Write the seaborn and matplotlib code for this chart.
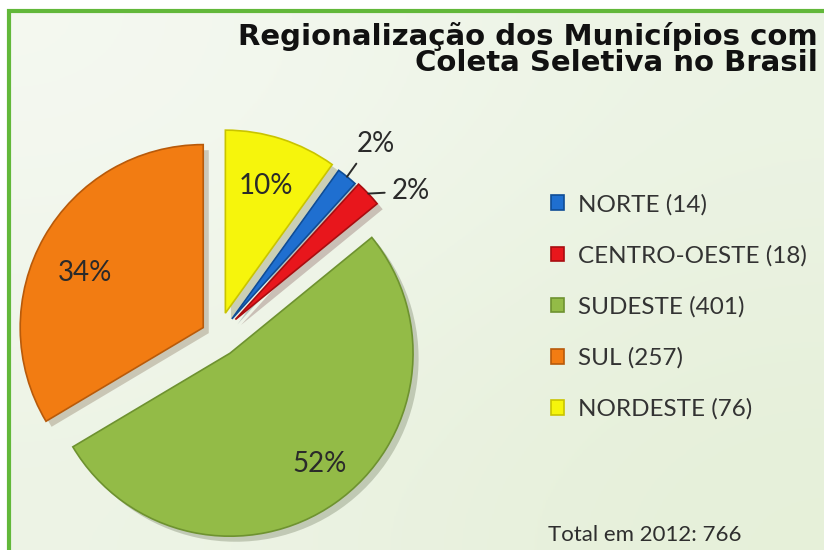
import numpy as np
import matplotlib
matplotlib.use('Agg')
import matplotlib.pyplot as plt
import matplotlib.patheffects as pe
from matplotlib.patches import Rectangle
import seaborn as sns

regions = ['NORTE', 'CENTRO-OESTE', 'SUDESTE', 'SUL', 'NORDESTE']
counts = [14, 18, 401, 257, 76]
colors = ['#1f6fd0', '#e8161c', '#93bb47', '#f27c12', '#f6f50c']
edge_colors = ['#0f4d96', '#a80d10', '#6e9230', '#b85a0a', '#c9c400']
year = 2012

sns.set_theme(style='white')
plt.rcParams['font.family'] = ['Lato', 'DejaVu Sans']

W, H = 824, 550
fig = plt.figure(figsize=(W / 100, H / 100), dpi=100)
fig.patch.set_facecolor('white')
ax = fig.add_axes([0, 0, 1, 1])

# background panel with soft green gradient and green frame (left/top only visible)
grad = np.array([[[0.96, 0.975, 0.945], [0.925, 0.955, 0.895]],
                 [[0.93, 0.955, 0.90], [0.90, 0.94, 0.85]]])
ax.imshow(grad, extent=(9, W + 5, -5, H - 11), interpolation='bicubic', zorder=0, aspect='auto')
ax.add_patch(Rectangle((9, -10), W + 20, H - 11 + 10, fill=False, edgecolor='#62b83a', lw=3, zorder=1))

total = sum(counts)
start = 90 - 360 * counts[-1] / total
center = (218, H - 336)
radius = 183
explode_px = [22, 24, 21, 17, 24]   # pie explode is in data units (pixels here)
pct_dist = [0, 0, 0.78, 0.71, 0.73]
pct_rot = [0, 0, 4, 5, 0]

wedges, texts, autotexts = ax.pie(
    counts, colors=colors, explode=explode_px, startangle=start, counterclock=False,
    radius=radius, center=center, autopct=lambda p: f'{p:.0f}%',
    wedgeprops=dict(linewidth=1.2), textprops=dict(fontsize=20, color='#2a2a2a'))

for w, ec in zip(wedges, edge_colors):
    w.set_edgecolor(ec)
    w.set_zorder(3)
    w.set_path_effects([pe.SimplePatchShadow(offset=(4, -4), alpha=0.22), pe.Normal()])

for i, t in enumerate(autotexts):
    t.set_zorder(5)
    w = wedges[i]
    if pct_dist[i]:
        ang = np.deg2rad((w.theta1 + w.theta2) / 2 + pct_rot[i])
        t.set_position((w.center[0] + w.r * pct_dist[i] * np.cos(ang),
                        w.center[1] + w.r * pct_dist[i] * np.sin(ang)))

# small slices get outside labels with leader lines
small = {0: (1.36, -0.5, (0.15, 0.1)), 1: (1.32, -6.6, (0.0, 0.45))}
for i, (r_lab, dang, relpos) in small.items():
    w = wedges[i]
    mid = np.deg2rad((w.theta1 + w.theta2) / 2)
    cx, cy = w.center
    autotexts[i].set_visible(False)
    pt = (cx + w.r * np.cos(mid), cy + w.r * np.sin(mid))
    lab_ang = mid + np.deg2rad(dang)
    lab = (center[0] + radius * r_lab * np.cos(lab_ang), center[1] + radius * r_lab * np.sin(lab_ang))
    ax.annotate(f'{100 * counts[i] / total:.0f}%', xy=pt, xytext=lab, fontsize=20, color='#2a2a2a',
                ha='center', va='center', zorder=6,
                arrowprops=dict(arrowstyle='-', color='#2a2a2a', lw=1.4, relpos=relpos,
                                shrinkA=3, shrinkB=0))

ax.text(818, H - 45, 'Regionalização dos Municípios com', ha='right', va='baseline',
        fontsize=21, fontweight='bold', color='#111111', family='DejaVu Sans', zorder=6)
ax.text(818, H - 71, 'Coleta Seletiva no Brasil', ha='right', va='baseline',
        fontsize=21, fontweight='bold', color='#111111', family='DejaVu Sans', zorder=6)

labels = [f'{r} ({c})' for r, c in zip(regions, counts)]
leg = ax.legend(wedges, labels, loc='upper left', bbox_to_anchor=(529, H - 172),
                bbox_transform=ax.transData, frameon=False, fontsize=17.5,
                handlelength=0.55, handleheight=0.55, handletextpad=0.55, labelspacing=1.22)
for t in leg.get_texts():
    t.set_color('#333333')
for h in leg.legend_handles:
    h.set_path_effects([])

ax.text(548, H - 535, f'Total em {year}: {total}', ha='left', va='center',
        fontsize=16, color='#2e2e2e', zorder=6)

ax.set_xlim(0, W)
ax.set_ylim(0, H)
ax.set_axis_off()

plt.savefig('out.png', dpi=100, facecolor=fig.get_facecolor())
